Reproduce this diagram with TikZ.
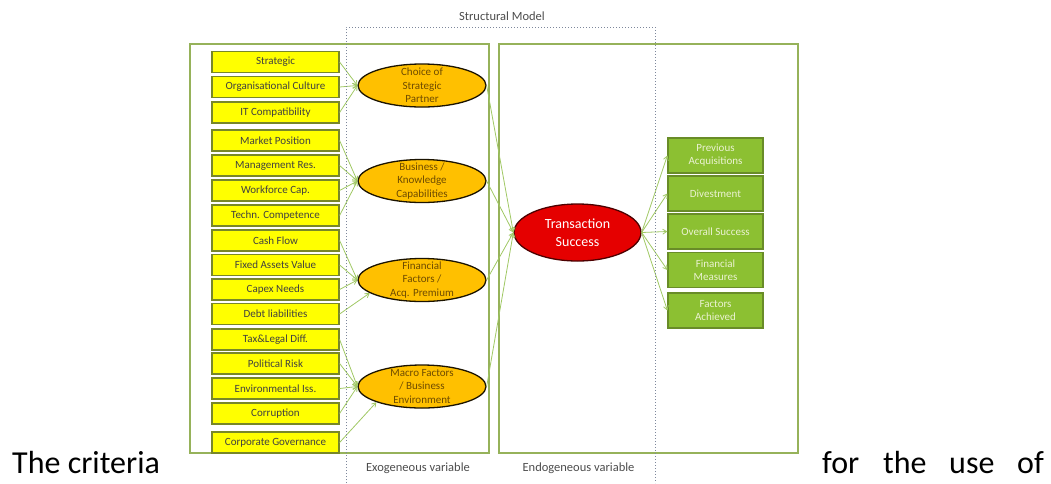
\documentclass[tikz,border=0pt]{standalone}
\usepackage{fontspec}
\setmainfont{Carlito}
\usetikzlibrary{positioning,shapes.geometric,arrows.meta}

\definecolor{critfill}{RGB}{255,255,0}
\definecolor{critedge}{RGB}{120,135,40}
\definecolor{factorfill}{RGB}{255,192,0}
\definecolor{factortext}{RGB}{110,75,0}
\definecolor{outfill}{RGB}{140,192,50}
\definecolor{outedge}{RGB}{105,140,40}
\definecolor{outtext}{RGB}{235,242,210}
\definecolor{panelgreen}{RGB}{150,178,90}
\definecolor{linkgreen}{RGB}{160,200,100}
\definecolor{modelgray}{RGB}{125,135,155}

\begin{document}
\begin{tikzpicture}[
  x=1pt, y=-1pt,
  >={Straight Barb[length=4pt,width=5pt]},
  crit/.style={draw=critedge, fill=critfill, line width=1.2pt, minimum width=127pt,
    minimum height=21pt, inner sep=0pt, text=black!75,
    font=\fontsize{11}{13}\selectfont},
  factor/.style={ellipse, draw=black!75!factortext, fill=factorfill, line width=1.3pt,
    minimum width=128pt, minimum height=43pt, inner sep=0pt},
  factorlbl/.style={align=center, text=factortext, font=\fontsize{11}{13.5}\selectfont},
  success/.style={ellipse, draw=black!70!red, fill=red!90!black, line width=1.3pt,
    minimum width=127pt, minimum height=57pt, inner sep=0pt, align=center,
    text=white, font=\fontsize{14}{18}\selectfont},
  outcome/.style={draw=outedge, fill=outfill, line width=1.2pt, minimum width=95pt,
    minimum height=35pt, inner sep=0pt, align=center, text=outtext,
    font=\fontsize{11}{13}\selectfont},
  link/.style={->, linkgreen, line width=0.8pt},
  panel/.style={draw=panelgreen, line width=1.5pt},
  caption/.style={text=black!70, font=\fontsize{12.5}{15}\selectfont},
  bodytext/.style={anchor=base west, inner sep=0pt, font=\fontsize{32}{38}\selectfont}
]
  \useasboundingbox (0,0) rectangle (1051,483);

  % panels for the two kinds of variables
  \draw[panel] (190,44) rectangle (489,453);
  \draw[panel] (499,44) rectangle (798,453);

  % criteria on the left
  \foreach \i/\y/\txt in {1/62/Strategic, 2/87/Organisational Culture, 3/112.5/IT Compatibility,
      4/140.5/Market Position, 5/165.5/Management Res., 6/190.5/Workforce Cap.,
      7/215.5/Techn. Competence, 8/240.5/Cash Flow, 9/265/Fixed Assets Value,
      10/289.5/Capex Needs, 11/314/Debt liabilities, 12/339.5/Tax\&Legal Diff.,
      13/363.5/Political Risk, 14/388.5/Environmental Iss., 15/413.5/Corruption,
      16/442.5/Corporate Governance} {
    \node[crit] (c\i) at (275.5,\y) {\txt};
  }

  % latent factors
  \node[factor] (choice) at (422,85.5) {};
  \node[factorlbl] (choicelbl) at (choice) {Choice of\\Strategic\\Partner};
  \node[factor] (know) at (422,181) {};
  \node[factorlbl] (knowlbl) at (know) {Business /\\Knowledge\\Capabilities};
  \node[factor] (fin) at (422,280) {};
  \node[factorlbl] (finlbl) at (fin) {Financial\\Factors /\\Acq. Premium};
  \node[factor] (macro) at (422,386.5) {};
  \node[factorlbl] (macrolbl) at (macro) {Macro Factors\\/ Business\\Environment};

  % endogenous side
  \node[success] (ts) at (577.5,232.5) {Transaction\\Success};
  \foreach \i/\y/\txt in {1/155.5/Previous\\Acquisitions, 2/193.5/Divestment,
      3/231.5/Overall Success, 4/270/Financial\\Measures, 5/310.5/Factors\\Achieved} {
    \node[outcome] (o\i) at (715.5,\y) {\txt};
  }

  % criteria -> factors
  \foreach \i in {1,2,3} \draw[link] (c\i.east) -- (choice.west);
  \foreach \i in {4,5,6,7} \draw[link] (c\i.east) -- (know.west);
  \foreach \i in {8,9,10} \draw[link] (c\i.east) -- (fin.west);
  \draw[link] (c11.east) -- (fin.194);
  \foreach \i in {12,13,14,15} \draw[link] (c\i.east) -- (macro.west);
  \draw[link] (c16.east) -- (macro.199);

  % factors -> success -> outcomes
  \foreach \f in {choice,know,fin,macro} \draw[link] (\f.east) -- (ts.west);
  \foreach \i in {1,...,5} \draw[link] (ts.east) -- (o\i.west);

  % structural model frame
  \draw[modelgray, dotted, line width=1pt] (346,483) -- (346,27) -- (655,27) -- (655,483);
  \node[caption] (model) at (502,16) {Structural Model};
  \node[caption] (exo) at (418,468) {Exogeneous variable};
  \node[caption] (endo) at (578.5,468) {Endogeneous variable};

  % running text round the figure
  \node[bodytext] (w1) at (12,473) {The criteria};
  \node[bodytext] (w2) at (822,473) {for};
  \node[bodytext] (w3) at (883,473) {the};
  \node[bodytext] (w4) at (949,473) {use};
  \node[bodytext] (w5) at (1017,473) {of};
\end{tikzpicture}
\end{document}
